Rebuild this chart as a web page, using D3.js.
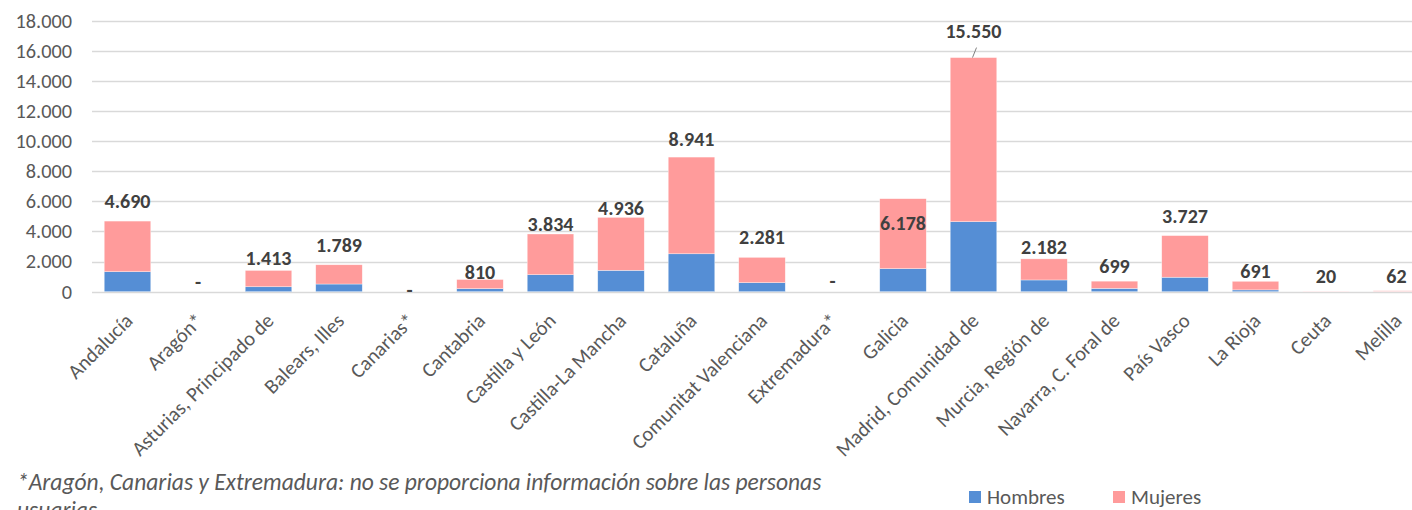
<!DOCTYPE html>
<html>
<head>
<meta charset="utf-8">
<script src="https://cdn.jsdelivr.net/npm/d3@7"></script>
<style>
  body { margin: 0; background: #fff; }
  svg { display: block; font-family: Carlito, "Open Sans", sans-serif; }
</style>
</head>
<body>
<div id="chart"></div>
<script>
// data
var regions = ["Andalucía", "Aragón*", "Asturias, Principado de", "Balears, Illes", "Canarias*",
    "Cantabria", "Castilla y León", "Castilla-La Mancha", "Cataluña", "Comunitat Valenciana",
    "Extremadura*", "Galicia", "Madrid, Comunidad de", "Murcia, Región de", "Navarra, C. Foral de",
    "País Vasco", "La Rioja", "Ceuta", "Melilla"];
var totals  = [4690, null, 1413, 1789, null, 810, 3834, 4936, 8941, 2281, null, 6178, 15550, 2182, 699, 3727, 691, 20, 62];
var hombres = [1330, null, 330, 510, null, 200, 1130, 1420, 2520, 600, null, 1530, 4650, 780, 220, 960, 120, 6, 20];
var yTicks  = [0, 2000, 4000, 6000, 8000, 10000, 12000, 14000, 16000, 18000];
var seriesNames = ["Hombres", "Mujeres"];
var colors = ["#558ed5", "#ff9b9b"];

// gap (px) between bar top and label baseline; the labels were nudged by hand in the original
var labelGap = [13.5, 3, 5, 12.5, -5, 0.5, 2.5, 2.5, 11, 13.5, 4, -31.5, 19.5, 4.5, 8, 13, 3, 8, 8];

var W = 1412, H = 510;
var fmt = function(v) { return d3.format(",")(v).replace(/,/g, "."); };

var rows = regions.map(function(r, i) {
    var h = hombres[i] || 0, t = totals[i] || 0;
    return { region: r, Hombres: h, Mujeres: t - h, total: totals[i], gap: labelGap[i] };
});

var svg = d3.select("#chart").append("svg").attr("width", W).attr("height", H);

var x = d3.scaleBand().domain(regions).range([92.25, 1431.75]).paddingInner(0.34).paddingOuter(0.17);
var y = d3.scaleLinear().domain([0, 18000]).range([291.7, 20.7]);

// grid
svg.append("g").selectAll("line")
    .data(yTicks)
    .enter().append("line")
    .attr("x1", 92).attr("x2", W)
    .attr("y1", function(d) { return Math.round(y(d)) + 0.5; })
    .attr("y2", function(d) { return Math.round(y(d)) + 0.5; })
    .style("stroke", "#d9d9d9").style("stroke-width", 1.3);

// y labels
svg.append("g").selectAll("text")
    .data(yTicks)
    .enter().append("text")
    .attr("x", 72).attr("y", function(d) { return y(d); })
    .attr("dy", "0.34em")
    .attr("text-anchor", "end")
    .style("font-size", "20.3px").style("fill", "#595959")
    .text(fmt);

// stacked bars
var stack = d3.stack().keys(seriesNames)(rows);
svg.append("g").selectAll("g")
    .data(stack)
    .enter().append("g")
    .attr("fill", function(d, i) { return colors[i]; })
    .selectAll("rect")
    .data(function(d) { return d; })
    .enter().append("rect")
    .attr("x", function(d) { return x(d.data.region); })
    .attr("width", x.bandwidth())
    .attr("y", function(d) { return y(d[1]); })
    .attr("height", function(d) { return y(d[0]) - y(d[1]); })
    .style("stroke", "#fff").style("stroke-width", 0.6).style("stroke-opacity", 0.6);

// total labels
svg.append("g").selectAll("text")
    .data(rows)
    .enter().append("text")
    .attr("x", function(d) { return x(d.region) + x.bandwidth() / 2; })
    .attr("y", function(d) { return (d.total == null ? y(0) : y(d.total)) - d.gap; })
    .attr("text-anchor", "middle")
    .style("font-size", "20px").style("font-weight", "bold").style("fill", "#404040")
    .text(function(d) { return d.total == null ? "-" : fmt(d.total); });

// leader line for Madrid label
var mad = rows[12];
svg.append("line")
    .attr("x1", x(mad.region) + x.bandwidth() / 2 - 1).attr("y1", y(mad.total))
    .attr("x2", x(mad.region) + x.bandwidth() / 2 + 3).attr("y2", y(mad.total) - 10)
    .style("stroke", "#7f7f7f").style("stroke-width", 1);

// category labels, rotated
svg.append("g").selectAll("text")
    .data(regions)
    .enter().append("text")
    .attr("transform", function(d) {
        return "translate(" + (x(d) + x.bandwidth() / 2 + 6.5) + ",322) rotate(-45)";
    })
    .attr("text-anchor", "end")
    .style("font-size", "20.5px").style("fill", "#595959")
    .text(function(d) { return d; });

// footnote
var note = svg.append("text")
    .attr("x", 17).attr("y", 490)
    .style("font-size", "23.5px").style("font-style", "italic").style("fill", "#595959");
note.append("tspan").attr("x", 17)
    .text("*Aragón, Canarias y Extremadura: no se proporciona información sobre las personas");
note.append("tspan").attr("x", 17).attr("dy", 28).text("usuarias");

// legend
var legX = [969, 1113];
var leg = svg.append("g").selectAll("g")
    .data(seriesNames)
    .enter().append("g")
    .attr("transform", function(d, i) { return "translate(" + legX[i] + ",491)"; });
leg.append("rect").attr("width", 12).attr("height", 12)
    .attr("fill", function(d, i) { return colors[i]; });
leg.append("text").attr("x", 18).attr("y", 6).attr("dy", "0.34em")
    .style("font-size", "21px").style("fill", "#595959")
    .text(function(d) { return d; });
</script>
</body>
</html>
